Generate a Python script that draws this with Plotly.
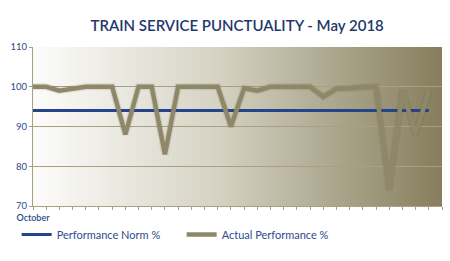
import base64, struct, zlib
import plotly.graph_objects as go

# ---- data ----
days = list(range(31))
x_tick_positions = list(range(32))
x_tick_labels = ["October"] + [""] * 31
norm = [94] * 31
actual = [100, 100, 99, 99.5, 100, 100, 100, 88, 100, 100, 83, 100, 100, 100, 100,
          90, 99.6, 99, 100, 100, 100, 100, 97.5, 99.5, 99.6, 100, 100, 74, 99.2, 88, 99]
y_ticks = [70, 80, 90, 100, 110]

# ---- gradient background image (pure python png) ----
def lerp(a, b, t):
    return tuple(int(round(a[i] + (b[i] - a[i]) * t)) for i in range(3))

stops = [(0.0, (252, 252, 250)), (0.45, (214, 211, 196)), (1.0, (134, 126, 93))]
def col(t):
    for (t0, c0), (t1, c1) in zip(stops[:-1], stops[1:]):
        if t <= t1:
            return lerp(c0, c1, (t - t0) / (t1 - t0))
    return stops[-1][1]

W, H = 256, 2
raw = b""
for r in range(H):
    raw += b"\x00" + b"".join(bytes(col(c / (W - 1))) for c in range(W))
def chunk(tag, data):
    return struct.pack(">I", len(data)) + tag + data + struct.pack(">I", zlib.crc32(tag + data) & 0xffffffff)
png = b"\x89PNG\r\n\x1a\n" + chunk(b"IHDR", struct.pack(">IIBBBBB", W, H, 8, 2, 0, 0, 0)) \
      + chunk(b"IDAT", zlib.compress(raw)) + chunk(b"IEND", b"")
bg_src = "data:image/png;base64," + base64.b64encode(png).decode()

olive = "rgb(143,136,104)"
grid_col = "rgb(168,160,128)"
blue = "rgb(36,68,140)"
text_blue = "rgb(46,74,138)"

fig = go.Figure()
fig.add_trace(go.Scatter(x=days, y=norm, mode="lines", name="Performance Norm %",
                         line=dict(color=blue, width=3)))
fig.add_trace(go.Scatter(x=days, y=actual, mode="lines", showlegend=False, hoverinfo="skip",
                         line=dict(color="rgba(70,64,40,0.12)", width=7)))
fig.add_trace(go.Scatter(x=days, y=actual, mode="lines", name="Actual Performance %",
                         line=dict(color=olive, width=4.5)))

fig.add_layout_image(dict(source=bg_src, xref="x", yref="y", x=0, y=110, sizex=31, sizey=40,
                          sizing="stretch", layer="below", xanchor="left", yanchor="top"))

fig.update_layout(
    width=450, height=261,
    margin=dict(l=33, r=8, t=47, b=55, autoexpand=False),
    paper_bgcolor="white", plot_bgcolor="white",
    title=dict(text="TRAIN SERVICE PUNCTUALITY - May 2018", x=0.527, xanchor="center",
               y=0.9, yanchor="middle",
               font=dict(family="Lato", size=15, color="rgb(31,56,110)", weight=600)),
    legend=dict(orientation="h", x=-0.04, xanchor="left", y=-0.088, yanchor="top",
                font=dict(family="Lato", size=11, color=text_blue),
                entrywidth=120, bgcolor="rgba(0,0,0,0)"),
    showlegend=True,
)
fig.update_xaxes(range=[0, 31], tickvals=x_tick_positions, ticktext=x_tick_labels,
                 showgrid=False, zeroline=False, showline=True, linecolor=grid_col, linewidth=1,
                 ticks="outside", ticklen=3, tickcolor=grid_col,
                 tickfont=dict(family="Lato", size=9, color=text_blue, weight=600))
fig.update_yaxes(range=[70, 110], tickvals=y_ticks, showgrid=True, gridcolor=grid_col, gridwidth=1,
                 zeroline=False, showline=True, linecolor=grid_col, linewidth=1,
                 ticks="outside", ticklen=3, tickcolor=grid_col,
                 tickfont=dict(family="Lato", size=9.5, color=text_blue))

fig.write_html("out.html")
